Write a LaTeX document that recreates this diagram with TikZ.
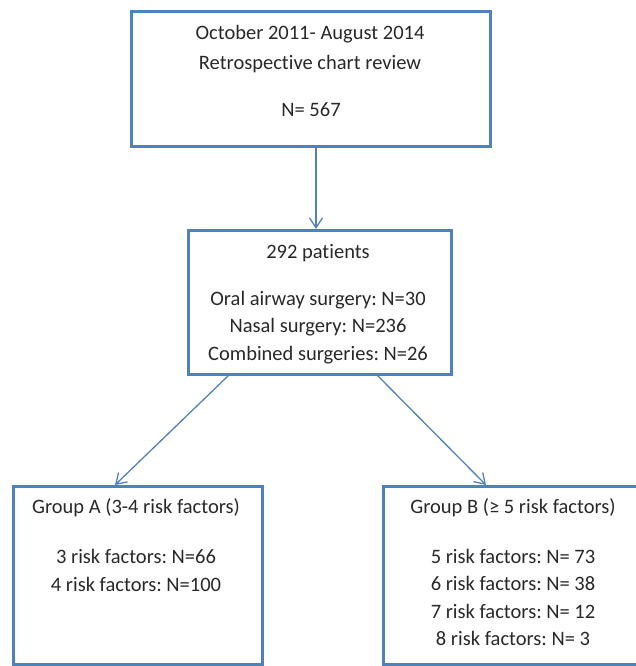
\documentclass[tikz,border=0pt]{standalone}
\usepackage{fontspec}
\setmainfont[Ligatures=NoCommon]{Carlito}
\usetikzlibrary{arrows.meta}
\definecolor{boxblue}{RGB}{79,129,189}
\definecolor{txt}{RGB}{40,40,40}
\tikzset{
  box/.style={draw=boxblue, line width=3pt},
  conn/.style={draw=boxblue, line width=1.3pt, -{Straight Barb[length=10pt,width=13pt,line width=1.3pt]}},
  lbl/.style={font=\fontsize{20.5}{23}\selectfont\frenchspacing, text=txt, inner sep=0pt, anchor=center},
}
\begin{document}
\begin{tikzpicture}[x=1pt,y=-1pt]
\useasboundingbox (0,0) rectangle (636,666);
\clip (0,0) rectangle (636,666);
% boxes
\node[box, minimum width=359pt, minimum height=134pt, inner sep=0pt] (top) at (310.5,79) {};
\node[box, minimum width=263pt, minimum height=144pt, inner sep=0pt] (mid) at (319.5,302) {};
\node[box, minimum width=249pt, minimum height=178pt, inner sep=0pt] (ga) at (137.5,575) {};
\node[box, minimum width=262pt, minimum height=178pt, inner sep=0pt] (gb) at (514,575) {};
% texts
\node[lbl] (t1) at (310,34) {October 2011- August 2014};
\node[lbl] (t2) at (310,64) {Retrospective chart review};
\node[lbl] (t3) at (311,110) {N= 567};
\node[lbl] (m1) at (318,253) {292 patients};
\node[lbl] (m2) at (318,300) {Oral airway surgery: N=30};
\node[lbl] (m3) at (318,327) {Nasal surgery: N=236};
\node[lbl] (m4) at (318,355) {Combined surgeries: N=26};
\node[lbl] (a1) at (136,508) {Group A (3-4 risk factors)};
\node[lbl] (a2) at (136,556) {3 risk factors: N=66};
\node[lbl] (a3) at (136,584) {4 risk factors: N=100};
\node[lbl] (b1) at (513,508) {Group B (≥ 5 risk factors)};
\node[lbl] (b2) at (513,556) {5 risk factors: N= 73};
\node[lbl] (b3) at (513,583) {6 risk factors: N= 38};
\node[lbl] (b4) at (513,611) {7 risk factors: N= 12};
\node[lbl] (b5) at (513,638) {8 risk factors: N= 3};
% connector endpoints
\coordinate (tA) at (316,147);
\coordinate (tB) at (316,229);
\coordinate (lA) at (229,375);
\coordinate (lB) at (115,485);
\coordinate (rA) at (377,375);
\coordinate (rB) at (486,485);
\draw[conn] (tA) -- (tB);
\draw[conn] (lA) -- (lB);
\draw[conn] (rA) -- (rB);
\end{tikzpicture}
\end{document}
